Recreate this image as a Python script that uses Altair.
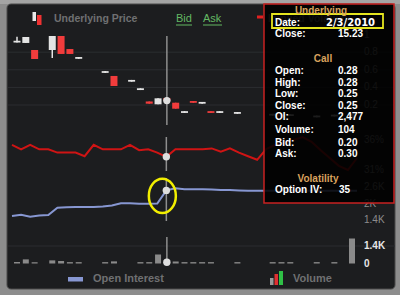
import altair as alt
import pandas as pd

# ---------------- data ----------------
days = list(range(39))
opens = [0.91, 0.905, 0.825, None, 0.825, 0.984, 0.836, 0.725, None, None,
         0.565, 0.53, None, 0.465, 0.37, 0.24, 0.208, 0.28, 0.226, 0.11,
         0.245, 0.215, 0.13, 0.11, None, 0.10, None, None, None, 0.08,
         0.09, 0.075, None, None, 0.06, None, 0.07, None, 0.05]
closes = [0.93, 0.973, 0.723, None, 0.984, 0.78, 0.78, 0.745, None, None,
          0.585, 0.416, None, 0.485, 0.39, 0.215, 0.276, 0.25, 0.158, 0.13,
          0.225, 0.235, 0.11, 0.13, None, 0.12, None, None, None, 0.10,
          0.07, 0.095, None, None, 0.08, None, 0.09, None, 0.10]
highs = [0.975, 0.973, 0.825, None, 0.984, 0.984, 0.836, 0.745, None, None,
         0.585, 0.53, None, 0.485, 0.39, 0.24, 0.276, 0.28, 0.226, 0.13,
         0.245, 0.235, 0.13, 0.13, None, 0.12, None, None, None, 0.10,
         0.09, 0.095, None, None, 0.08, None, 0.09, None, 0.10]
lows = [0.91, 0.905, 0.723, None, 0.734, 0.78, 0.78, 0.725, None, None,
        0.565, 0.416, None, 0.465, 0.37, 0.215, 0.208, 0.25, 0.158, 0.11,
        0.225, 0.215, 0.11, 0.11, None, 0.10, None, None, None, 0.08,
        0.07, 0.075, None, None, 0.06, None, 0.07, None, 0.05]
implied_vol = [35.2, 34.45, 35.2, 34.45, 34.45, 33.9, 33.9, 33.9, 33.3, 35.2,
               34.45, 34.45, 34.45, 35.2, 34.3, 34.45, 33.9, 33.2, 34.45, 34.45,
               34.45, 34.45, 34.6, 34.05, 34.6, 33.9, 33.3, 32.7, 34.5, 35.2,
               35.5, 36.0, 36.5, 35.7, 34.3, 33.0, 31.7, 31.0, 33.0]
open_interest = [1545, 1593, 1520, 1560, 1582, 1847, 1860, 1870, 1870, 1875,
                 1890, 1930, 2007, 2007, 1990, 1990, 2000, 2477, 2550, 2520,
                 2520, 2515, 2510, 2490, 2490, 2475, 2460, 2460, 2460, 2460,
                 2460, 2460, 2460, 2460, 2460, 2460, 2460, 2460, 2460]
volume = [120, 330, 110, None, 250, 200, 110, 110, None, None,
          110, 170, None, None, 110, 110, 720, 104, 160, 110,
          110, 110, 110, None, None, 110, None, None, None, 110,
          110, 110, None, None, 110, None, 110, None, 2000]

cross_day = 17
cross_close = 0.25

price_ticks = [1.0, 0.8, 0.6, 0.4, 0.2]
price_labels = ["1", "0.8", "0.6", "0.4", "0.2"]
iv_ticks = [36, 31]
iv_labels = ["36%", "31%"]
oi_ticks = [2600, 2000, 1400]
oi_labels = ["2.6K", "2K", "1.4K"]
vol_ticks = [1400, 0]
vol_labels = ["1.4K", "0"]

tip_underlying = [("Date:", "2/3/2010"), ("Close:", "15.23")]
tip_call = [("Open:", "0.28"), ("High:", "0.28"), ("Low:", "0.25"),
            ("Close:", "0.25"), ("OI:", "2,477"), ("Volume:", "104"),
            ("Bid:", "0.20"), ("Ask:", "0.30")]
tip_volatility = [("Option IV:", "35")]

# ---------------- tables ----------------
rows = []
for d, o, h, l, c in zip(days, opens, highs, lows, closes):
    if o is None:
        continue
    rows.append(dict(day=d, open=o, high=h, low=l, close=c,
                     dir="up" if c >= o else "down"))
candles = pd.DataFrame(rows)
lines = pd.DataFrame({"day": days, "iv": implied_vol, "oi": open_interest})
vol_df = pd.DataFrame([dict(day=d, vol=v) for d, v in zip(days, volume) if v is not None])
cross = pd.DataFrame({"day": [cross_day], "close": [cross_close],
                      "iv": [implied_vol[cross_day]], "oi": [open_interest[cross_day]],
                      "vol": [volume[cross_day]]})
one = pd.DataFrame({"k": [0]})

XS = alt.Scale(domain=[0, 38], range=[12, 357], nice=False, zero=False)
PS = alt.Scale(domain=[0, 1], range=[122.6, 34.6], nice=False, zero=False)
IVS = alt.Scale(domain=[31, 36], range=[170, 140], nice=False, zero=False)
OIS = alt.Scale(domain=[1400, 2600], range=[220, 187], nice=False, zero=False)
VS = alt.Scale(domain=[0, 1400], range=[263.5, 246], nice=False)

X = alt.X("day:Q", scale=XS, axis=None)
FONT = "Liberation Sans"


def box(x1, x2, y1, y2, **kw):
    return alt.Chart(one).mark_rect(**kw).encode(
        x=alt.value(x1), x2=alt.value(x2), y=alt.value(y1), y2=alt.value(y2))


def label(x, y, text, **kw):
    kw.setdefault("font", FONT)
    kw.setdefault("baseline", "middle")
    kw.setdefault("align", "left")
    return alt.Chart(one).mark_text(text=text, **kw).encode(
        x=alt.value(x), y=alt.value(y))


def hline(x1, x2, y, color, width=1):
    return alt.Chart(one).mark_rule(color=color, strokeWidth=width).encode(
        x=alt.value(x1), x2=alt.value(x2), y=alt.value(y))


def ticks_text(ticks, labels, scale, color, bold=False):
    df = pd.DataFrame({"t": ticks, "lab": labels})
    return alt.Chart(df).mark_text(align="left", baseline="middle", font=FONT,
                                   fontSize=10, color=color,
                                   fontWeight="bold" if bold else "normal").encode(
        x=alt.value(364), y=alt.Y("t:Q", scale=scale, axis=None), text="lab:N")


def grid(ticks, scale, color="#2b2d31"):
    df = pd.DataFrame({"t": ticks})
    return alt.Chart(df).mark_rule(color=color, strokeWidth=1).encode(
        x=alt.value(8), x2=alt.value(395), y=alt.Y("t:Q", scale=scale, axis=None))


def cross_seg(y1, y2):
    return alt.Chart(cross).mark_rule(color="#8e8e8e", strokeWidth=1.5).encode(
        X, y=alt.value(y1), y2=alt.value(y2))


def cross_dot(field, scale):
    return alt.Chart(cross).mark_circle(size=55, color="#dedede", opacity=1).encode(
        X, y=alt.Y(f"{field}:Q", scale=scale, axis=None))


COL = alt.Color("dir:N", scale=alt.Scale(domain=["up", "down"],
                                         range=["#e4e4e4", "#f23c3c"]), legend=None)

# ---------------- frame ----------------
frame = [
    box(0, 400, 0, 4, color="#a4a4a4"),
    box(7, 395, 4, 289, color="#1c1d1f", cornerRadius=4, stroke="#4a4a4a", strokeWidth=1),
]

# ---------------- price panel ----------------
price = alt.layer(
    grid(price_ticks[1:], PS),
    alt.Chart(candles).mark_rule(strokeWidth=1.5).encode(
        X, y=alt.Y("low:Q", scale=PS, axis=None), y2="high:Q", color=COL),
    alt.Chart(candles).mark_bar(size=7).encode(
        X, y=alt.Y("open:Q", scale=PS, axis=None), y2="close:Q", color=COL),
    cross_seg(36, 125),
    cross_dot("close", PS),
    ticks_text(price_ticks, price_labels, PS, "#8a8a8a"),
)

iv_layer = alt.layer(
    alt.Chart(lines).mark_line(color="#cf1414", strokeWidth=2).encode(
        X, y=alt.Y("iv:Q", scale=IVS, axis=None)),
    cross_seg(137, 171),
    cross_dot("iv", IVS),
    ticks_text(iv_ticks, iv_labels, IVS, "#8a8a8a"),
)

oi_layer = alt.layer(
    alt.Chart(lines).mark_line(color="#8797d2", strokeWidth=2).encode(
        X, y=alt.Y("oi:Q", scale=OIS, axis=None)),
    cross_seg(178, 221),
    cross_dot("oi", OIS),
    ticks_text(oi_ticks, oi_labels, OIS, "#8c8c8c"),
    alt.Chart(cross).mark_point(
        shape="M 1 0 C 1 0.7 0.552 1.27 0 1.27 C -0.552 1.27 -1 0.7 -1 0 "
              "C -1 -0.7 -0.552 -1.27 0 -1.27 C 0.552 -1.27 1 -0.7 1 0 Z",
        size=729, filled=False, stroke="#f2ee00", strokeWidth=2.5, opacity=1,
        xOffset=-4, yOffset=5.5).encode(X, y=alt.Y("oi:Q", scale=OIS, axis=None)),
)

vol_layer = alt.layer(
    grid([1400], VS, "#2a2c30"),
    alt.Chart(vol_df).mark_bar(size=6, color="#8a8a8a").encode(
        X, y=alt.Y("vol:Q", scale=VS, axis=None)),
    cross_seg(237, 262),
    cross_dot("vol", VS),
    ticks_text(vol_ticks, vol_labels, VS, "#e6e6e6", bold=True),
)

# ---------------- legends ----------------
legend = [
    box(32.5, 36, 12, 21, color="#e8e8e8"),
    box(37, 41.5, 15, 25, color="#f03232"),
    label(54, 19, "Underlying Price", fontSize=10.5, fontWeight="bold", color="#6f7072"),
    label(176, 19, "Bid", fontSize=11, color="#63b863"),
    hline(176, 192, 25, "#63b863"),
    label(203, 19, "Ask", fontSize=11, color="#63b863"),
    hline(203, 222, 25, "#63b863"),
    box(257, 263, 15.5, 18.5, color="#e02020"),
    label(268, 19, "Implied Volatility", fontSize=10.5, fontWeight="bold", color="#6f7072"),
    box(68, 83, 277, 281.5, color="#8797d2"),
    label(93, 279, "Open Interest", fontSize=11, fontWeight="bold", color="#6f7072"),
    box(270, 273.5, 278, 285, color="#9a9a9a"),
    box(274.5, 278, 274, 285, color="#e03030"),
    box(279, 283, 271, 285, color="#2fc046"),
    label(293, 279, "Volume", fontSize=11, fontWeight="bold", color="#6f7072"),
]

# ---------------- tooltip ----------------
tip = [
    box(264, 394, 4, 203, fill="#000000", fillOpacity=0.88,
        stroke="#c82222", strokeWidth=1.5),
    box(272, 383, 14, 28, fillOpacity=0, stroke="#e4e41e", strokeWidth=1.8),
]
TITLE = dict(fontSize=10, fontWeight="bold", color="#d8a25e", align="center")
LAB = dict(fontSize=10, fontWeight="bold", color="#ffffff")
tip.append(label(321, 11, "Underlying", **TITLE))
for (name, val), y in zip(tip_underlying, [22.5, 34]):
    tip.append(label(275, y, name, **LAB))
    if "/" in val:
        tip.append(label(326, y, val, fontSize=10, fontWeight="bold",
                         color="#ffffff", font="DejaVu Sans"))
    else:
        tip.append(label(338, y, val, **LAB))
tip.append(label(323, 59, "Call", **TITLE))
for (name, val), y in zip(tip_call, [71, 82.5, 94, 105.5, 117, 130, 142.5, 154]):
    tip.append(label(275, y, name, **LAB))
    tip.append(label(338, y, val, **LAB))
tip.append(label(318, 178.5, "Volatility", **TITLE))
for (name, val), y in zip(tip_volatility, [190]):
    tip.append(label(275, y, name, **LAB))
    tip.append(label(339, y, val, **LAB))

chart = alt.layer(
    *frame, price, iv_layer, oi_layer, vol_layer, *legend, *tip
).resolve_scale(
    x="independent", y="independent", color="independent"
).properties(
    width=400, height=295, autosize=alt.AutoSizeParams(type="none"), padding=0,
    background="#8d8d8d"
).configure_view(stroke=None)

chart.save("out.html", embed_options={"renderer": "svg", "actions": False})
